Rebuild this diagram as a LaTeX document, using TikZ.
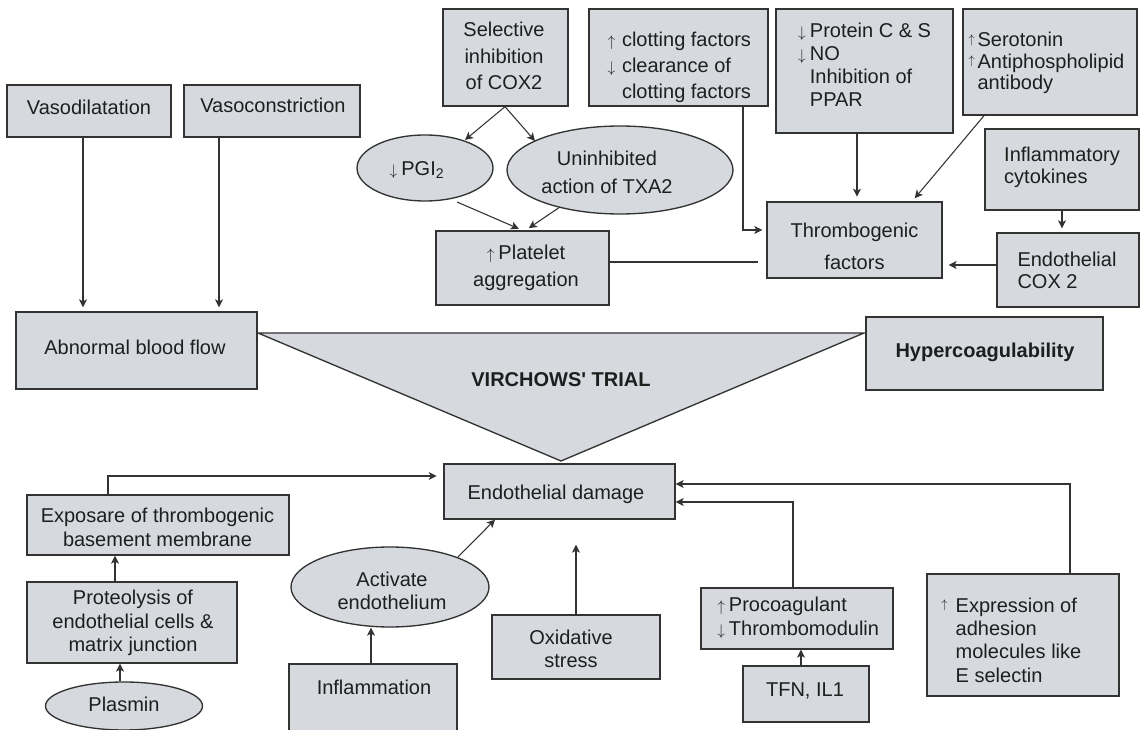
\documentclass[tikz,border=0pt]{standalone}
\usepackage{fontspec}
\setmainfont{Liberation Sans}
\usepackage{graphicx}
\usetikzlibrary{shapes.geometric,arrows.meta,calc}
\definecolor{bg}{HTML}{D6D9DE}
\definecolor{lc}{HTML}{333333}
\definecolor{tc}{HTML}{1E1E1E}
\newcommand\upa{\scalebox{0.8}{$\uparrow$}}
\newcommand\dna{\scalebox{0.8}{$\downarrow$}}
\newcommand\upr{\raisebox{2.5pt}{\scalebox{0.65}{$\uparrow$}}}
\newcommand\hang[2]{\llap{#1\hspace{#2}}}
\newcommand\sq{{\addfontfeatures{Ligatures=TeXOff}'}}
\begin{document}
\begin{tikzpicture}[x=0.75pt,y=-0.75pt,
  box/.style={draw=lc, fill=bg, line width=1pt, inner sep=0pt, rectangle},
  ell/.style={ellipse, draw=lc, fill=bg, line width=1pt, inner sep=0pt},
  tri/.style={draw=lc, fill=bg, line width=1pt, line join=miter},
  txt/.style={inner sep=0pt, text=tc, font=\fontsize{15}{18}\selectfont},
  fs/.style={font=\fontsize{15}{#1}\selectfont},
  bld/.style={font=\fontsize{15}{18}\selectfont\bfseries},
  arr/.style={draw=lc, line width=0.8pt, -{Stealth[length=6pt,width=6pt,inset=1.5pt]}},
  ln/.style={draw=lc, line width=0.8pt}]
\path[use as bounding box, fill=white] (0,0) rectangle (1140,730);
\clip (0,0) rectangle (1140,730);

% Virchow triangle
\path[tri] (258,333) -- (864,333) -- (561,461) -- cycle;
\node[txt, bld, anchor=base] (vt) at (561,387) {VIRCHOWS\sq{} TRIAL};

% top-left
\node[box, minimum width=123pt, minimum height=39pt] (vasod) at (89,111) {};
\node[txt, anchor=base] (vasodt) at (89,115) {Vasodilatation};
\node[box, minimum width=132pt, minimum height=39pt] (vasoc) at (272,111) {};
\node[txt, anchor=base] (vasoct) at (273,113) {Vasoconstriction};

% COX2 branch
\node[box, minimum width=93.75pt, minimum height=72.75pt] (sel) at (505.5,57.5) {};
\node[txt, fs=19.9pt, align=center] (selt) at (504,56) {Selective\\inhibition\\of COX2};
\node[ell, minimum width=102pt, minimum height=49.5pt] (pgi) at (425,168) {};
\node[txt] (pgit) at (417,170) {\dna\hspace{3pt}PGI\textsubscript{2}};
\node[ell, minimum width=169.5pt, minimum height=66pt] (uninh) at (620,170) {};
\node[txt, fs=21pt, align=center] (uninht) at (607,172) {Uninhibited\\action of TXA2};
\node[box, minimum width=129.75pt, minimum height=55.5pt] (plat) at (522.5,268) {};
\node[txt, fs=20.5pt, align=center] (platt) at (526,268) {\upa\hspace{3pt}Platelet\\aggregation};

% thrombogenic cluster
\node[box, minimum width=134.25pt, minimum height=72.75pt] (clot) at (678.5,57.5) {};
\node[txt, fs=19.4pt, align=left] (clott) at (686.5,67) {\hang{\upa}{5pt}clotting factors\\\hang{\dna}{5pt}clearance of\\clotting factors};
\node[box, minimum width=132.75pt, minimum height=93pt] (prot) at (864.5,71) {};
\node[txt, fs=17.25pt, align=left] (prott) at (870.5,65) {\hang{\dna}{3pt}Protein C \& S\\\hang{\dna}{3pt}NO\\Inhibition of\\PPAR};
\node[box, minimum width=130.5pt, minimum height=79.5pt] (sero) at (1050,62) {};
\node[txt, fs=16.3pt, align=left] (serot) at (1051,63) {\hang{\upr}{2pt}Serotonin\\\hang{\upr}{2pt}Antiphospholipid\\antibody};
\node[box, minimum width=115.5pt, minimum height=60.75pt] (infc) at (1062,169.5) {};
\node[txt, fs=16.3pt, align=left] (infct) at (1062,167) {Inflammatory\\cytokines};
\node[box, minimum width=106.5pt, minimum height=55.5pt] (ecox) at (1068,270) {};
\node[txt, fs=16.3pt, align=left] (ecoxt) at (1067,270) {Endothelial\\COX 2};
\node[box, minimum width=131.25pt, minimum height=57pt] (thromb) at (854.5,240) {};
\node[txt, fs=23.8pt, align=center] (thrombt) at (854.5,246) {Thrombogenic\\factors};

% middle row
\node[box, minimum width=180.75pt, minimum height=57.75pt] (abn) at (136.5,350.5) {};
\node[txt, anchor=base] (abnt) at (135,355) {Abnormal blood flow};
\node[box, minimum width=177.75pt, minimum height=54.75pt] (hyp) at (984.5,353.5) {};
\node[txt, bld, anchor=base] (hypt) at (985,358) {Hypercoagulability};
\node[box, minimum width=173.25pt, minimum height=41.25pt] (endo) at (559.5,491.5) {};
\node[txt, anchor=base] (endot) at (556,500) {Endothelial damage};

% bottom
\node[box, minimum width=196.5pt, minimum height=45pt] (expo) at (158,525) {};
\node[txt, fs=18pt, align=center] (expot) at (157.5,527.5) {Exposare of thrombogenic\\basement membrane};
\node[box, minimum width=157.5pt, minimum height=60.75pt] (proteo) at (132,622.5) {};
\node[txt, fs=17.6pt, align=center] (proteot) at (133,623) {Proteolysis of\\endothelial cells \&\\matrix junction};
\node[ell, minimum width=117.75pt, minimum height=36pt] (plasmin) at (124,706) {};
\node[txt, anchor=base] (plasmint) at (124,712) {Plasmin};
\node[ell, minimum width=148.5pt, minimum height=60pt] (activ) at (390,587) {};
\node[txt, fs=17.3pt, align=center] (activt) at (392,591) {Activate\\endothelium};
\node[box, minimum width=126pt, minimum height=54pt] (infl) at (373,700) {};
\node[txt, anchor=base] (inflt) at (374,695) {Inflammation};
\node[box, minimum width=126pt, minimum height=48pt] (oxid) at (576,647) {};
\node[txt, fs=17.5pt, align=center] (oxidt) at (571,649) {Oxidative\\stress};
\node[box, minimum width=144pt, minimum height=45.75pt] (procoag) at (797,618.5) {};
\node[txt, fs=18pt, align=left] (procoagt) at (804,618) {\hang{\upa}{3pt}Procoagulant\\\hang{\dna}{3pt}Thrombomodulin};
\node[box, minimum width=94.5pt, minimum height=42pt] (tfn) at (806,694) {};
\node[txt, anchor=base] (tfnt) at (805,697) {TFN, IL1};
\node[box, minimum width=144pt, minimum height=91.5pt] (expr) at (1023,635) {};
\node[txt, fs=17.5pt, align=left] (exprt) at (1018.5,640) {\hang{\upr}{6pt}Expression of\\adhesion\\molecules like\\E selectin};

% connectors
\draw[arr, shorten >=3pt] ($(vasod.south)+(-6,0)$) -- ($(abn.north)+(-53.5,0)$);
\draw[arr, shorten >=3pt] ($(vasoc.south)+(-53,0)$) -- ($(abn.north)+(82.5,0)$);
\draw[arr] ($(sel.south)+(-0.5,0)$) -- ($(pgi.center)+(40,-28)$);
\draw[arr] ($(sel.south)+(-0.5,0)$) -- ($(uninh.center)+(-85,-29)$);
\draw[arr, shorten >=3pt] ($(pgi.center)+(32,34)$) -- (plat.north);
\draw[arr, shorten >=3pt] ($(uninh.center)+(-60,37)$) -- ($(plat.north)+(3,0)$);
\draw[ln] ($(plat.east)+(0,-6)$) -- ($(thromb.west)+(-8,22)$);
\draw[arr, shorten >=3pt] ($(clot.south)+(64.5,0)$) |- ($(thromb.west)+(0,-10)$);
\draw[arr, shorten >=3.5pt] ($(prot.south)+(-7.5,0)$) -- ($(thromb.north)+(2.5,0)$);
\draw[arr, shorten >=2pt] ($(sero.south)+(-66,0)$) -- ($(thromb.north)+(58.5,-1)$);
\draw[arr, shorten >=3pt] (infc.south) -- ($(ecox.north)+(-6,0)$);
\draw[arr, shorten >=4.5pt] ($(ecox.west)+(0,-5)$) -- ($(thromb.east)+(0,25)$);
\draw[arr, shorten >=5pt] ($(expo.north)+(-50,0)$) |- ($(endo.west)+(0,-15.5)$);
\draw[arr] ($(proteo.north)+(-17,0)$) -- ($(expo.south)+(-43,0)$);
\draw[arr] ($(plasmin.north)+(-4,0)$) -- ($(proteo.south)+(-12,0)$);
\draw[arr] ($(activ.center)+(68,-30)$) -- ($(endo.south)+(-64.5,0)$);
\draw[arr] ($(infl.north)+(-2,0)$) -- ($(activ.south)+(-19,0)$);
\draw[arr] (oxid.north) -- ($(endo.south)+(16.5,25)$);
\draw[arr] ($(procoag.north)+(-4,0)$) |- ($(endo.east)+(0,10.5)$);
\draw[arr] ($(expr.north)+(47,0)$) |- ($(endo.east)+(0,-7.5)$);
\draw[arr] ($(tfn.north)+(-5,0)$) -- ($(procoag.south)+(4,0)$);
\end{tikzpicture}
\end{document}
